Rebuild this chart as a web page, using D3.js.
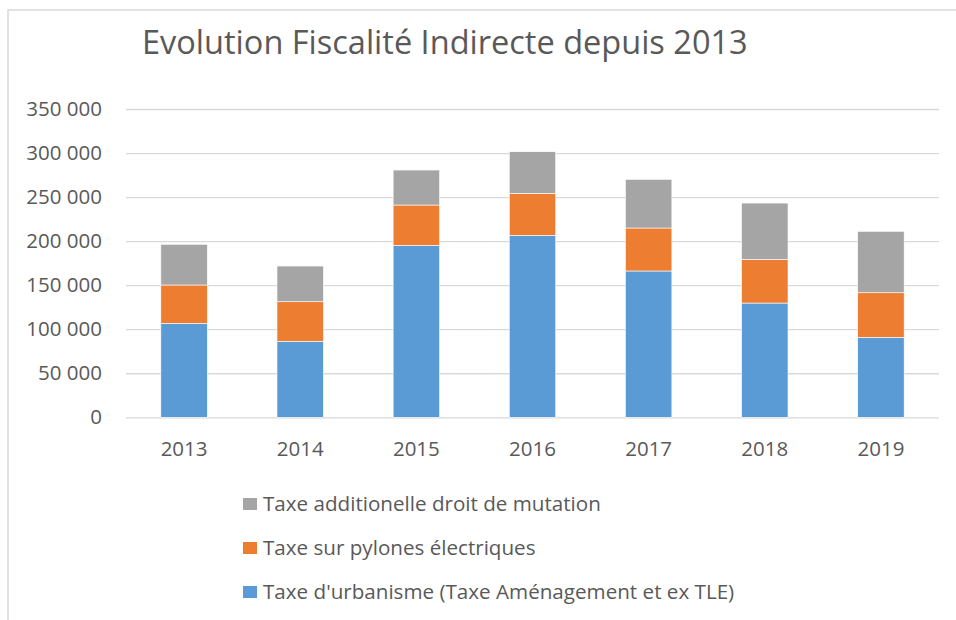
<!DOCTYPE html>
<html>
<head>
<meta charset="utf-8">
<script src="https://cdn.jsdelivr.net/npm/d3@7/dist/d3.min.js"></script>
<style>
  body { margin: 0; background: #fff; }
  svg text { font-family: "Open Sans", sans-serif; fill: #595959; }
  .grid line { stroke: #d9d9d9; stroke-width: 1.3px; }
</style>
</head>
<body>
<div id="chart"></div>
<script>
// data
var years      = ["2013", "2014", "2015", "2016", "2017", "2018", "2019"];
var urbanisme  = [106700, 86300, 195200, 206600, 166100, 129700, 90800];
var pylones    = [43500, 44900, 45800, 47700, 48800, 49600, 50600];
var mutation   = [46200, 40500, 39700, 47200, 55200, 63900, 69700];
var seriesKeys = ["urbanisme", "pylones", "mutation"];
var seriesNames = {
	urbanisme: "Taxe d'urbanisme (Taxe Aménagement et ex TLE)",
	pylones:   "Taxe sur pylones électriques",
	mutation:  "Taxe additionelle droit de mutation"
};
var colors = { urbanisme: "#5b9bd5", pylones: "#ed7d31", mutation: "#a5a5a5" };
var yTicks = [0, 50000, 100000, 150000, 200000, 250000, 300000, 350000];
var title  = "Evolution Fiscalité Indirecte depuis 2013";

var W = 956, H = 620;
var margin = {top: 109, right: 17, bottom: 202.7, left: 126};
var innerW = W - margin.left - margin.right,
    innerH = H - margin.top - margin.bottom;

var fr = d3.formatLocale({decimal: ",", thousands: " ", grouping: [3], currency: ["", " €"]});
var fmt = fr.format(",d");

var rows = years.map(function(y, i) {
	return {year: y, urbanisme: urbanisme[i], pylones: pylones[i], mutation: mutation[i]};
});
var stacked = d3.stack().keys(seriesKeys)(rows);

var svg = d3.select("#chart").append("svg")
	.attr("width", W).attr("height", H);

// chart frame (cut at right / bottom)
svg.append("path")
	.attr("d", "M8," + H + "V10H" + W)
	.attr("fill", "none")
	.attr("stroke", "#d9d9d9")
	.attr("stroke-width", 1.5);

// font size that makes a text node span a given width
function fitSize(sel, target) {
	var size = parseFloat(sel.style("font-size"));
	var len = sel.node().getComputedTextLength();
	return size * target / len;
}

var t = svg.append("text")
	.attr("x", 142).attr("y", 54)
	.style("font-size", "32px")
	.text(title);
t.style("font-size", fitSize(t, 606) + "px");

var g = svg.append("g")
	.attr("transform", "translate(" + margin.left + "," + margin.top + ")");

var x = d3.scaleBand()
	.domain(years)
	.range([0, innerW])
	.paddingInner(0.6)
	.paddingOuter(0.3);

var y = d3.scaleLinear()
	.domain([0, 350000])
	.range([innerH, 0]);

var yAxis = g.append("g")
	.attr("class", "grid")
	.call(d3.axisLeft(y).tickValues(yTicks).tickFormat(fmt)
		.tickSize(-innerW).tickPadding(24));
yAxis.select(".domain").remove();
yAxis.selectAll("text").style("font-size", "20.5px");

var xAxis = g.append("g")
	.attr("transform", "translate(0," + innerH + ")")
	.call(d3.axisBottom(x).tickSize(0).tickPadding(24));
xAxis.select(".domain").remove();
xAxis.selectAll("text").style("font-size", "20.5px");

g.append("g").selectAll("g")
	.data(stacked)
	.enter().append("g")
	.attr("fill", function(d) { return colors[d.key]; })
	.selectAll("rect")
	.data(function(d) { return d; })
	.enter().append("rect")
		.attr("x", function(d) { return x(d.data.year); })
		.attr("y", function(d) { return y(d[1]); })
		.attr("width", x.bandwidth())
		.attr("height", function(d) { return y(d[0]) - y(d[1]); })
		.attr("stroke", "#fff")
		.attr("stroke-width", 0.6);

// legend, top to bottom: mutation, pylones, urbanisme
var legendKeys = seriesKeys.slice().reverse();
var lg = svg.append("g").selectAll("g")
	.data(legendKeys)
	.enter().append("g")
	.attr("transform", function(d, i) { return "translate(243," + (504 + i * 44) + ")"; });
lg.append("rect")
	.attr("x", 0).attr("y", -6)
	.attr("width", 14).attr("height", 12)
	.attr("fill", function(d) { return colors[d]; });
var lt = lg.append("text")
	.attr("x", 20).attr("dy", "0.35em")
	.style("font-size", "20px")
	.text(function(d) { return seriesNames[d]; });
var legendSize = fitSize(lt.filter(function(d) { return d === "mutation"; }), 338);
lt.style("font-size", legendSize + "px");
</script>
</body>
</html>
